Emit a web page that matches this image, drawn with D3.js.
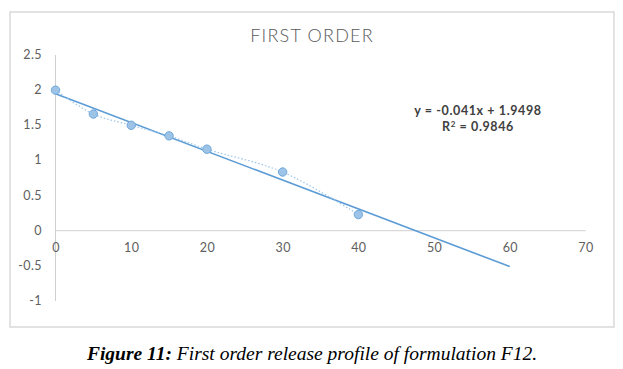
<!DOCTYPE html>
<html>
<head>
<title>First order</title>
<style>
  html, body { margin:0; padding:0; background:#fff; }
  svg { display:block; }
</style>
<script src="https://d3js.org/d3.v7.min.js"></script>
</head>
<body>
<svg id="chart"></svg>
<script>
// data
var times = [0, 5, 10, 15, 20, 30, 40];
var logRemain = [2.0, 1.66, 1.5, 1.35, 1.16, 0.835, 0.23];
var xTicks = [0, 10, 20, 30, 40, 50, 60, 70];
var yTicks = [-1, -0.5, 0, 0.5, 1, 1.5, 2, 2.5];
var slope = -0.041, intercept = 1.9498;
var trendRange = [0, 60];

var width = 623, height = 369;
var svg = d3.select("#chart").attr("width", width).attr("height", height);

// chart frame
svg.append("rect")
  .attr("x", 10).attr("y", 12)
  .attr("width", 604).attr("height", 315)
  .attr("fill", "#fff")
  .attr("stroke", "#d9d9d9")
  .attr("stroke-width", 1.5);

var x = d3.scaleLinear().domain([0, 70]).range([55.5, 585.5]);
var y = d3.scaleLinear().domain([-1, 2.5]).range([301, 55]);

// axis lines
svg.append("line")
  .attr("x1", x(0)).attr("x2", x(0))
  .attr("y1", y(2.5)).attr("y2", y(-1))
  .attr("stroke", "#d0d0d0").attr("stroke-width", 1);
svg.append("line")
  .attr("x1", x(0)).attr("x2", x(70))
  .attr("y1", y(0)).attr("y2", y(0))
  .attr("stroke", "#d0d0d0").attr("stroke-width", 1);

// tick labels
svg.append("g").selectAll("text").data(yTicks).enter().append("text")
  .attr("x", 42).attr("y", function(d) { return y(d) + 4; })
  .attr("text-anchor", "end")
  .attr("font-family", "Lato, 'Open Sans', sans-serif")
  .attr("font-size", 12.5).attr("fill", "#606060")
  .attr("letter-spacing", 0.4)
  .text(function(d) { return d; });

svg.append("g").selectAll("text").data(xTicks).enter().append("text")
  .attr("x", function(d) { return x(d) + 0.5; }).attr("y", y(0) + 21)
  .attr("text-anchor", "middle")
  .attr("font-family", "Lato, 'Open Sans', sans-serif")
  .attr("font-size", 12.5).attr("fill", "#606060")
  .attr("letter-spacing", 0.4)
  .text(function(d) { return d; });

// title
svg.append("text")
  .attr("x", 312).attr("y", 42)
  .attr("text-anchor", "middle")
  .attr("font-family", "Lato, 'Open Sans', sans-serif")
  .attr("font-size", 18).attr("font-weight", 300).attr("fill", "#595959")
  .attr("letter-spacing", 1.2)
  .text("FIRST ORDER");

var pts = times.map(function(t, i) { return [t, logRemain[i]]; });

// linear trendline
svg.append("line")
  .attr("x1", x(trendRange[0])).attr("y1", y(slope * trendRange[0] + intercept))
  .attr("x2", x(trendRange[1])).attr("y2", y(slope * trendRange[1] + intercept))
  .attr("stroke", "#5b9bd5").attr("stroke-width", 1.6);

// smoothed dotted series line
var line = d3.line()
  .x(function(d) { return x(d[0]); })
  .y(function(d) { return y(d[1]); })
  .curve(d3.curveCatmullRom.alpha(0.5));
svg.append("path")
  .datum(pts)
  .attr("d", line)
  .attr("fill", "none")
  .attr("stroke", "#9cc5ea")
  .attr("stroke-width", 1.2)
  .attr("stroke-dasharray", "1.5,2");

// markers
svg.append("g").selectAll("circle").data(pts).enter().append("circle")
  .attr("cx", function(d) { return x(d[0]); })
  .attr("cy", function(d) { return y(d[1]); })
  .attr("r", 4.2)
  .attr("fill", "#9dc3e6")
  .attr("stroke", "#6fa8dc")
  .attr("stroke-width", 1);

// equation
var eq = svg.append("g")
  .attr("font-family", "Lato, 'Open Sans', sans-serif")
  .attr("font-size", 12.5).attr("font-weight", "bold").attr("fill", "#404040")
  .attr("letter-spacing", 0.6)
  .attr("text-anchor", "middle");
eq.append("text").attr("x", 478).attr("y", 115)
  .text("y = " + slope + "x + " + intercept);
var r2 = eq.append("text").attr("x", 478).attr("y", 131);
r2.append("tspan").text("R");
r2.append("tspan").attr("dy", -4).attr("font-size", 8).text("2");
r2.append("tspan").attr("dy", 4).text(" = 0.9846");

// caption
var cap = svg.append("text")
  .attr("x", 312).attr("y", 360)
  .attr("text-anchor", "middle")
  .attr("font-family", "'Liberation Serif', 'Times New Roman', serif")
  .attr("font-size", 19.5).attr("font-style", "italic").attr("fill", "#000");
cap.append("tspan").attr("font-weight", "bold").text("Figure 11:");
cap.append("tspan").text(" First order release profile of formulation F12.");
</script>
</body>
</html>
